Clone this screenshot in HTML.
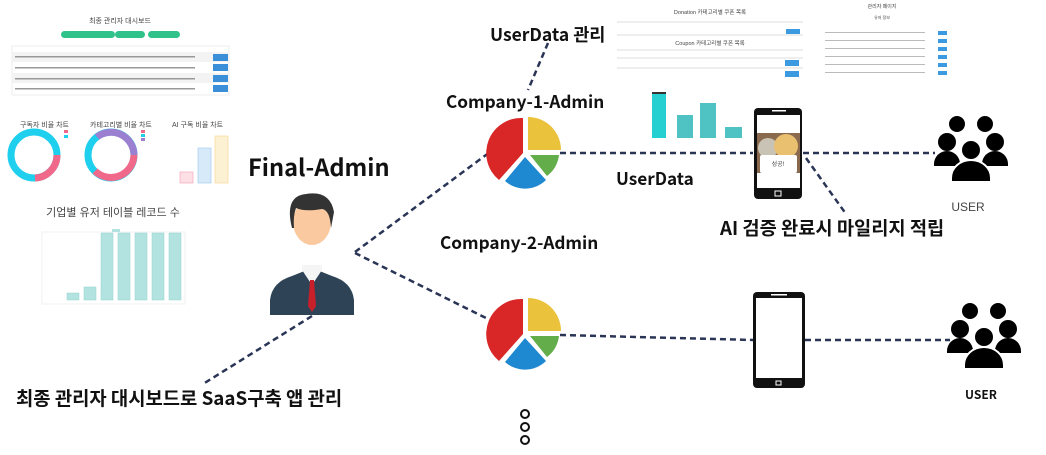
<!DOCTYPE html>
<html><head><meta charset="utf-8"><style>
html,body{margin:0;padding:0;background:#fff;width:1046px;height:455px;overflow:hidden}
svg{display:block}
.b{font-family:"Noto Sans CJK KR","Liberation Sans",sans-serif;font-weight:bold;fill:#111}
.s{font-family:"Liberation Sans","Noto Sans CJK KR",sans-serif;fill:#444}
</style></head><body>
<svg width="1046" height="455" viewBox="0 0 1046 455" xmlns="http://www.w3.org/2000/svg">
<defs>
<g id="pie">
<path d="M3,-3 L3,-36 A33,33 0 0 1 36,-3 Z" fill="#ebc23b"/>
<path d="M5,2 L34,2 A31,31 0 0 1 22,23 Z" fill="#63ad4a"/>
<path d="M0,4 L21,27 A30,30 0 0 1 -20,28 Z" fill="#1e88d0"/>
<path d="M-2,0 L-2,-35 A35,35 0 0 0 -26,27 Z" fill="#d92626"/>
</g>
<g id="grp" fill="#000">
<circle cx="-14" cy="-26" r="8"/><circle cx="14" cy="-26" r="8"/>
<circle cx="-24" cy="-8" r="9"/><circle cx="24" cy="-8" r="9"/>
<path d="M-37,14 a13,13 0 0 1 26,0 v2 h-26z"/><path d="M11,14 a13,13 0 0 1 26,0 v2 h-26z"/>
<circle cx="0" cy="0" r="10" stroke="#fff" stroke-width="2"/>
<path d="M-20,28 a20,18 0 0 1 40,0 v4 h-40z" stroke="#fff" stroke-width="2"/>
</g>
</defs>

<!-- Dashboard thumbnail -->
<text x="120" y="23" class="s" font-size="7" text-anchor="middle">최종 관리자 대시보드</text>
<rect x="61" y="31" width="54" height="7" rx="3.5" fill="#2fc28a"/>
<rect x="115" y="31" width="30" height="7" rx="3.5" fill="#2fc28a"/>
<rect x="148" y="31" width="32" height="7" rx="3.5" fill="#2fc28a"/>
<rect x="12" y="46" width="217" height="49" fill="#fff" stroke="#eee"/>
<rect x="12" y="52" width="217" height="10" fill="#f3f3f3"/>
<rect x="12" y="73" width="217" height="10" fill="#f3f3f3"/>
<g fill="#3b8fd8"><rect x="213" y="54" width="15" height="7"/><rect x="213" y="64" width="15" height="7"/><rect x="213" y="75" width="15" height="7"/><rect x="213" y="85" width="15" height="7"/></g>
<g fill="#999"><rect x="15" y="56" width="180" height="1.5"/><rect x="15" y="67" width="180" height="1.5"/><rect x="15" y="78" width="180" height="1.5"/><rect x="15" y="88" width="180" height="1.5"/></g>
<text x="20" y="127" class="s" font-size="7" fill="#222">구독자 비율 차트</text>
<text x="90" y="127" class="s" font-size="7" fill="#222">카테고리별 비율 차트</text>
<text x="172" y="127" class="s" font-size="7" fill="#222">AI 구독 비율 차트</text>
<circle cx="34" cy="155" r="23" fill="none" stroke="#1ecfee" stroke-width="7"/>
<path d="M57,155 A23,23 0 0 1 35,178" fill="none" stroke="#f0698a" stroke-width="7"/>
<circle cx="111" cy="155" r="23" fill="none" stroke="#1ecfee" stroke-width="7"/>
<path d="M134,155 A23,23 0 0 1 95,171" fill="none" stroke="#f0698a" stroke-width="7"/>
<path d="M97,137 A23,23 0 0 1 134,155" fill="none" stroke="#9b7fd0" stroke-width="7"/>
<rect x="64" y="130" width="4" height="3" fill="#f0698a"/><rect x="64" y="135" width="4" height="3" fill="#1ecfee"/>
<rect x="141" y="130" width="4" height="3" fill="#f0698a"/><rect x="141" y="134" width="4" height="3" fill="#1ecfee"/><rect x="141" y="138" width="4" height="3" fill="#9b7fd0"/>
<rect x="180" y="172" width="13" height="11" fill="#fde0e6" stroke="#f5a0b3" stroke-width=".6"/>
<rect x="198" y="148" width="13" height="35" fill="#d7eafa" stroke="#9cc9ee" stroke-width=".6"/>
<rect x="215" y="136" width="13" height="47" fill="#fdf1d4" stroke="#f4d58a" stroke-width=".6"/>
<text x="113" y="216" class="s" font-size="11" fill="#111" text-anchor="middle">기업별 유저 테이블 레코드 수</text>
<rect x="42" y="232" width="143" height="72" fill="none" stroke="#f0f0f0"/>
<rect x="112" y="229" width="8" height="3" fill="#b3e3e0"/>
<g fill="#b3e3e0" stroke="#92d3cf" stroke-width=".5">
<rect x="67" y="293" width="12" height="7"/><rect x="84" y="287" width="12" height="13"/>
<rect x="101" y="233" width="12" height="67"/><rect x="118" y="233" width="12" height="67"/><rect x="135" y="233" width="12" height="67"/><rect x="152" y="233" width="12" height="67"/><rect x="169" y="233" width="12" height="67"/></g>

<!-- top right thumbnails -->
<text x="710" y="14" class="s" font-size="5.5" text-anchor="middle">Donation 카테고리별 쿠폰 목록</text>
<line x1="617" y1="22" x2="803" y2="22" stroke="#ddd"/><line x1="617" y1="35" x2="803" y2="35" stroke="#ddd"/>
<rect x="786" y="29" width="14" height="5" fill="#3b9ae0"/>
<text x="710" y="45" class="s" font-size="5.5" text-anchor="middle">Coupon 카테고리별 쿠폰 목록</text>
<line x1="617" y1="50" x2="803" y2="50" stroke="#ddd"/><line x1="617" y1="58" x2="803" y2="58" stroke="#ddd"/><line x1="617" y1="68" x2="803" y2="68" stroke="#ddd"/>
<rect x="785" y="60" width="14" height="6" fill="#3b9ae0"/><rect x="785" y="71" width="14" height="6" fill="#3b9ae0"/>
<text x="882" y="8" class="s" font-size="5" text-anchor="middle">관리자 페이지</text>
<text x="882" y="19" class="s" font-size="4" text-anchor="middle">유저 정보</text>
<g fill="#3b9ae0"><rect x="938" y="31" width="9" height="4"/><rect x="938" y="39" width="9" height="4"/><rect x="938" y="47" width="9" height="4"/><rect x="938" y="55" width="9" height="4"/><rect x="938" y="63" width="9" height="4"/><rect x="938" y="71" width="9" height="4"/></g>
<g fill="#bbb"><rect x="825" y="32" width="100" height="1"/><rect x="825" y="40" width="100" height="1"/><rect x="825" y="48" width="100" height="1"/><rect x="825" y="56" width="100" height="1"/><rect x="825" y="64" width="100" height="1"/><rect x="825" y="72" width="100" height="1"/></g>
<rect x="652" y="92" width="14" height="46" fill="#26d0d0"/><rect x="652" y="92" width="14" height="2" fill="#333"/>
<rect x="677" y="115" width="16" height="23" fill="#4fc3c3"/>
<rect x="700" y="103" width="16" height="35" fill="#4fc3c3"/>
<rect x="725" y="127" width="17" height="11" fill="#4fc3c3"/>

<!-- connectors -->
<g stroke="#2a3556" stroke-width="2.5" stroke-dasharray="6,4" fill="none">
<line x1="355" y1="252" x2="490" y2="152"/>
<line x1="355" y1="253" x2="490" y2="320"/>
<line x1="312" y1="316" x2="203" y2="384"/>
<line x1="548" y1="43" x2="528" y2="90"/>
<line x1="560" y1="153" x2="753" y2="153"/>
<line x1="803" y1="153" x2="935" y2="153"/>
<line x1="806" y1="158" x2="846" y2="214"/>
<line x1="560" y1="335" x2="753" y2="340"/>
<line x1="805" y1="340" x2="950" y2="340"/>
</g>

<!-- person -->
<path d="M270,300 Q272,282 292,276 L312,268 L332,276 Q352,282 354,300 L354,315 L270,315 Z" fill="#2f4357"/>
<path d="M302,270 L312,285 L322,270 L322,265 L302,265 Z" fill="#f5f5f5"/>
<path d="M310,280 L314,280 L316,306 L312,312 L308,306 Z" fill="#c8202b"/>
<ellipse cx="312" cy="222" rx="19" ry="23" fill="#fbc9a0"/>
<path d="M292,228 Q284,196 306,194 Q330,190 334,212 L331,228 Q330,210 322,209 Q305,212 296,208 Q293,216 294,228 Z" fill="#333"/>

<use href="#pie" x="525" y="153"/>
<use href="#pie" x="525" y="334"/>

<!-- phones -->
<rect x="754" y="108" width="48" height="91" rx="4" fill="#111"/>
<rect x="757" y="115" width="43" height="73" fill="#fff"/>
<rect x="757" y="133" width="43" height="40" fill="#8a6a4f"/>
<circle cx="768" cy="148" r="10" fill="#c9c3b5"/><circle cx="786" cy="146" r="12" fill="#e8c070"/>
<rect x="760" y="155" width="37" height="18" rx="2" fill="#fff"/>
<text x="778" y="166" class="s" font-size="6" text-anchor="middle" fill="#222">성공!</text>
<rect x="772" y="110" width="14" height="1.5" fill="#fff"/>
<rect x="775" y="191" width="6" height="5" fill="none" stroke="#fff" stroke-width="1"/>
<rect x="753" y="292" width="52" height="96" rx="4" fill="#111"/>
<rect x="756" y="298" width="46" height="80" fill="#fff"/>
<rect x="771" y="294" width="16" height="1.5" fill="#fff"/>
<rect x="776" y="381" width="5" height="4" fill="none" stroke="#fff" stroke-width="1"/>

<use href="#grp" x="971" y="150"/>
<use href="#grp" x="984" y="337"/>

<!-- labels -->
<text x="490" y="41" class="b" font-size="17.5">UserData 관리</text>
<text x="446" y="108" class="b" font-size="17.2">Company-1-Admin</text>
<text x="248" y="176" class="b" font-size="23.6">Final-Admin</text>
<text x="616" y="185" class="b" font-size="17.2">UserData</text>
<text x="440" y="249" class="b" font-size="17.2">Company-2-Admin</text>
<text x="720" y="235" class="b" font-size="18.7">AI 검증 완료시 마일리지 적립</text>
<text x="16" y="405" class="b" font-size="18.8">최종 관리자 대시보드로 SaaS구축 앱 관리</text>
<text x="968" y="211" class="s" font-size="12" fill="#111" text-anchor="middle">USER</text>
<text x="981" y="399" class="b" font-size="12" text-anchor="middle">USER</text>
<g fill="none" stroke="#111" stroke-width="2"><circle cx="525" cy="414" r="4"/><circle cx="525" cy="427" r="4"/><circle cx="525" cy="440" r="4"/></g>
</svg>
</body></html>
